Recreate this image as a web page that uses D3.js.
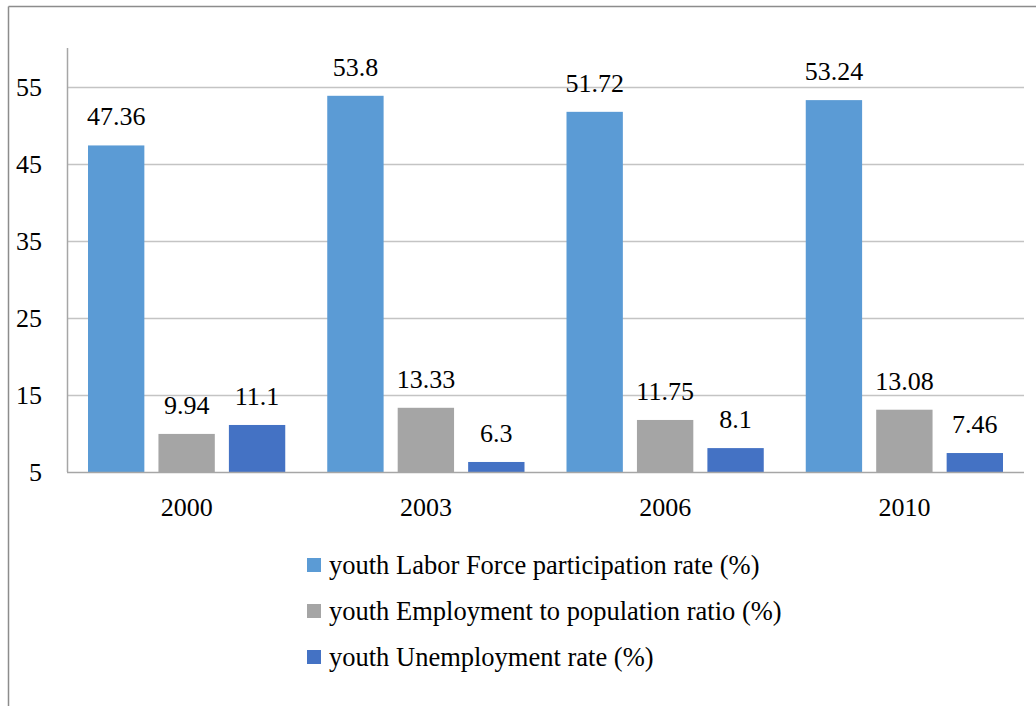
<!DOCTYPE html>
<html>
<head>
<meta charset="utf-8">
<script src="https://cdn.jsdelivr.net/npm/d3@7"></script>
<style>
  html, body { margin: 0; padding: 0; background: #fff; }
  svg { display: block; }
  text { font-family: "Liberation Serif", "Times New Roman", serif; fill: #000; }
</style>
</head>
<body>
<svg id="chart" width="1036" height="706"></svg>
<script>
// Youth labour market indicators by survey year
const years = ["2000", "2003", "2006", "2010"];
const seriesNames = [
  "youth Labor Force participation rate (%)",
  "youth Employment to population ratio (%)",
  "youth Unemployment rate (%)"
];
const laborForce = [47.36, 53.8, 51.72, 53.24];
const employmentRatio = [9.94, 13.33, 11.75, 13.08];
const unemployment = [11.1, 6.3, 8.1, 7.46];
const yTicks = [5, 15, 25, 35, 45, 55];
const colors = ["#5B9BD5", "#A5A5A5", "#4472C4"];

const seriesValues = [laborForce, employmentRatio, unemployment];

const svg = d3.select("#chart");

// outer frame (top and left edges)
svg.append("line").attr("x1", 8.5).attr("x2", 1036).attr("y1", 6.5).attr("y2", 6.5)
  .attr("stroke", "#8c8c8c").attr("stroke-width", 1.5);
svg.append("line").attr("x1", 8.5).attr("x2", 8.5).attr("y1", 6.5).attr("y2", 706)
  .attr("stroke", "#8c8c8c").attr("stroke-width", 1.5);

const plot = { left: 67, right: 1024, top: 48, bottom: 472 };

const x0 = d3.scaleBand().domain(years).range([plot.left, plot.right]).paddingInner(0).paddingOuter(0);
const x1 = d3.scaleBand().domain(d3.range(seriesNames.length))
  .range([21, x0.bandwidth() - 21]).paddingInner(0.2);
const y = d3.scaleLinear().domain([5, 60]).range([plot.bottom, plot.top]);

// horizontal gridlines
svg.append("g").selectAll("line").data(yTicks.filter(t => t > 5)).join("line")
  .attr("x1", plot.left).attr("x2", plot.right)
  .attr("y1", d => Math.round(y(d)) + 0.5).attr("y2", d => Math.round(y(d)) + 0.5)
  .attr("stroke", "#c4c4c4").attr("stroke-width", 1.5);

// y axis
const yAxis = d3.axisLeft(y).tickValues(yTicks).tickSize(0).tickPadding(25);
const gy = svg.append("g").attr("transform", `translate(${plot.left},0)`).call(yAxis);
gy.select(".domain").remove();
gy.selectAll("text").style("font-size", "26px").attr("dy", "0.34em");
svg.append("line").attr("x1", plot.left + 0.5).attr("x2", plot.left + 0.5)
  .attr("y1", plot.top).attr("y2", plot.bottom)
  .attr("stroke", "#a6a6a6").attr("stroke-width", 1.5);

// bars
const groups = svg.append("g").selectAll("g").data(years).join("g")
  .attr("transform", d => `translate(${x0(d)},0)`);

groups.selectAll("rect")
  .data((d, i) => seriesValues.map((vals, s) => ({ s, v: vals[i] })))
  .join("rect")
  .attr("x", d => x1(d.s))
  .attr("width", x1.bandwidth())
  .attr("y", d => y(d.v))
  .attr("height", d => y(5) - y(d.v))
  .attr("fill", d => colors[d.s]);

// value labels
groups.selectAll("text.val")
  .data((d, i) => seriesValues.map((vals, s) => ({ s, v: vals[i] })))
  .join("text")
  .attr("class", "val")
  .attr("x", d => x1(d.s) + x1.bandwidth() / 2)
  .attr("y", d => y(d.v) - 20)
  .attr("text-anchor", "middle")
  .style("font-size", "26px")
  .text(d => String(d.v));

// baseline / x axis
const xAxis = d3.axisBottom(x0).tickSize(0).tickPadding(26);
const gx = svg.append("g").attr("transform", `translate(0,${plot.bottom})`).call(xAxis);
gx.select(".domain").remove();
gx.selectAll("text").style("font-size", "26px");
svg.append("line").attr("x1", plot.left).attr("x2", plot.right)
  .attr("y1", plot.bottom + 0.5).attr("y2", plot.bottom + 0.5)
  .attr("stroke", "#a6a6a6").attr("stroke-width", 1.5);

// legend
const legend = svg.append("g").attr("transform", "translate(307,565)");
const items = legend.selectAll("g").data(seriesNames).join("g")
  .attr("transform", (d, i) => `translate(0,${i * 46})`);
items.append("rect").attr("x", 0).attr("y", -7).attr("width", 14).attr("height", 14)
  .attr("fill", (d, i) => colors[i]);
items.append("text").attr("x", 22).attr("y", 0).attr("dy", "0.35em")
  .style("font-size", "26.5px").text(d => d);
</script>
</body>
</html>
